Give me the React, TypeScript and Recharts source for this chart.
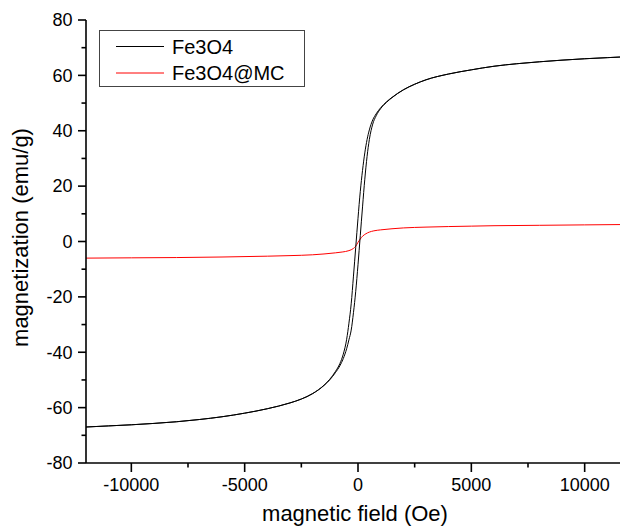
import { LineChart, Line, XAxis, YAxis, Legend } from 'recharts';

// magnetic field grid (Oe) shared by both Fe3O4 branches
const FIELD = [
  -12000, -11000, -10000, -9000, -8000, -7000, -6000, -5000, -4000, -3000, -2500, -2000,
  -1500, -1250, -1000, -800, -650, -500, -400, -300, -200, -100, 0, 100, 200, 300, 400,
  500, 650, 800, 1000, 1250, 1500, 2000, 2500, 3000, 4000, 5000, 6000, 7000, 8000, 9000,
  10000, 11000, 12000,
];

// Fe3O4, field sweeping down (left branch of the loop)
const FE3O4_DOWN = [
  -67.0, -66.6, -66.2, -65.7, -65.1, -64.3, -63.3, -62.0, -60.4, -58.3, -56.9, -54.9,
  -51.9, -49.8, -47.0, -44.1, -40.7, -35.3, -29.5, -22.5, -12.5, -2.1, 8.4, 18.0, 25.7, 32.0, 36.8,
  40.3, 43.9, 46.1, 48.3, 50.4, 52.05, 54.8, 56.8, 58.4, 60.5, 62.0, 63.3, 64.2, 64.9, 65.5,
  66.0, 66.4, 66.8,
];

// Fe3O4, field sweeping up (right branch of the loop)
const FE3O4_UP = [
  -67.0, -66.6, -66.2, -65.7, -65.1, -64.3, -63.3, -62.0, -60.4, -58.3, -56.9, -54.95,
  -52.0, -50.0, -47.4, -44.9, -42.3, -38.7, -35.5, -32.0, -25.7, -18.0, -8.4, 2.1, 12.5, 22.5, 30.7,
  36.8, 42.4, 45.4, 48.0, 50.2, 51.95, 54.75, 56.8, 58.4, 60.5, 62.0, 63.3, 64.2, 64.9, 65.5,
  66.0, 66.4, 66.8,
];

const MC_FIELD = [
  -12000, -10000, -8000, -6000, -4000, -3000, -2000, -1500, -1000, -700, -400, -200, -100, 0,
  100, 200, 350, 500, 700, 1000, 1500, 2000, 3000, 4000, 5000, 6000, 8000, 10000, 12000,
];
const MC_MAG = [
  -6.0, -5.9, -5.8, -5.6, -5.3, -5.1, -4.8, -4.5, -4.1, -3.8, -3.3, -2.5, -1.7, -0.3,
  0.9, 1.9, 2.8, 3.4, 3.85, 4.2, 4.6, 4.9, 5.2, 5.4, 5.55, 5.7, 5.85, 6.0, 6.15,
];

const X_TICKS = [-10000, -7500, -5000, -2500, 0, 2500, 5000, 7500, 10000];
const X_MAJOR = [-10000, -5000, 0, 5000, 10000];
const Y_TICKS = [-80, -70, -60, -50, -40, -30, -20, -10, 0, 10, 20, 30, 40, 50, 60, 70, 80];
const Y_MAJOR = [-80, -60, -40, -20, 0, 20, 40, 60, 80];

const SERIES_NAMES = ['Fe3O4', 'Fe3O4@MC'];
const SERIES_COLORS = ['#000000', '#ff0000'];

const FONT = '"Liberation Sans", Arial, sans-serif';

const toPoints = (xs: number[], ys: number[]) => xs.map((x, i) => ({ x, y: ys[i] }));

const downData = toPoints(FIELD, FE3O4_DOWN);
const upData = toPoints(FIELD, FE3O4_UP);
const mcData = toPoints(MC_FIELD, MC_MAG);

function XTick(props: any) {
  const { x, y, payload } = props;
  const major = X_MAJOR.includes(payload.value);
  return (
    <g>
      <line x1={x} x2={x} y1={y} y2={y + (major ? 9 : 4.5)} stroke="#000" strokeWidth={1.6} />
      {major && (
        <text x={x} y={y + 28} textAnchor="middle" fontSize={18} fontFamily={FONT} fill="#000">
          {payload.value}
        </text>
      )}
    </g>
  );
}

function YTick(props: any) {
  const { x, y, payload } = props;
  const major = Y_MAJOR.includes(payload.value);
  return (
    <g>
      <line x1={x - (major ? 8 : 4.5)} x2={x} y1={y} y2={y} stroke="#000" strokeWidth={1.6} />
      {major && (
        <text x={x - 13.5} y={y} dy="0.35em" textAnchor="end" fontSize={18} fontFamily={FONT} fill="#000">
          {payload.value}
        </text>
      )}
    </g>
  );
}

function XTitle(props: any) {
  const vb = props.viewBox || { x: 86, y: 463, width: 544, height: 65 };
  return (
    <text x={vb.x + vb.width / 2 - 3} y={vb.y + 58} textAnchor="middle" fontSize={22} fontFamily={FONT} fill="#000">
      magnetic field (Oe)
    </text>
  );
}

function YTitle(props: any) {
  const vb = props.viewBox || { x: 0, y: 20, width: 86, height: 443 };
  const cx = vb.x + 27.5;
  const cy = vb.y + vb.height / 2 - 4;
  return (
    <text
      x={cx}
      y={cy}
      transform={`rotate(-90, ${cx}, ${cy})`}
      textAnchor="middle"
      fontSize={22}
      fontFamily={FONT}
      fill="#000"
    >
      magnetization (emu/g)
    </text>
  );
}

function LegendBox() {
  return (
    <svg width={206} height={57} style={{ display: 'block' }}>
      <rect x={0.5} y={0.5} width={205} height={56} fill="#fff" stroke="#444" />
      {SERIES_NAMES.map((name, i) => {
        const cy = 16.5 + i * 26.5;
        return (
          <g key={name}>
            <line x1={17} x2={65} y1={cy} y2={cy} stroke={SERIES_COLORS[i]} strokeWidth={1} />
            <text x={73} y={cy} dy="0.35em" fontSize={20} fontFamily={FONT} fill="#000">
              {name}
            </text>
          </g>
        );
      })}
    </svg>
  );
}

export default function App() {
  return (
    <div
      style={{
        position: 'absolute',
        left: 0,
        top: 0,
        width: 620,
        height: 528,
        overflow: 'hidden',
        background: '#fff',
        fontFamily: FONT,
      }}
    >
      <LineChart width={630} height={528} margin={{ top: 20, right: 0, bottom: 0, left: 0 }}>
        <XAxis
          type="number"
          dataKey="x"
          domain={[-12000, 12000]}
          ticks={X_TICKS}
          interval={0}
          allowDataOverflow
          height={65}
          tickSize={0}
          tickMargin={0}
          tickLine={false}
          axisLine={{ stroke: '#000', strokeWidth: 1.6 }}
          tick={XTick}
          label={XTitle}
        />
        <YAxis
          type="number"
          domain={[-80, 80]}
          ticks={Y_TICKS}
          interval={0}
          allowDataOverflow
          width={86}
          tickSize={0}
          tickMargin={0}
          tickLine={false}
          axisLine={{ stroke: '#000', strokeWidth: 1.6 }}
          tick={YTick}
          label={YTitle}
        />
        <Legend
          layout="horizontal"
          verticalAlign="middle"
          align="center"
          wrapperStyle={{ left: 99, top: 30, width: 206, height: 57 }}
          content={() => <LegendBox />}
        />
        <Line
          data={mcData}
          dataKey="y"
          type="monotone"
          stroke={SERIES_COLORS[1]}
          strokeWidth={1}
          dot={false}
          isAnimationActive={false}
        />
        <Line
          data={downData}
          dataKey="y"
          type="monotone"
          stroke={SERIES_COLORS[0]}
          strokeWidth={1}
          dot={false}
          isAnimationActive={false}
        />
        <Line
          data={upData}
          dataKey="y"
          type="monotone"
          stroke={SERIES_COLORS[0]}
          strokeWidth={1}
          dot={false}
          isAnimationActive={false}
        />
      </LineChart>
    </div>
  );
}
